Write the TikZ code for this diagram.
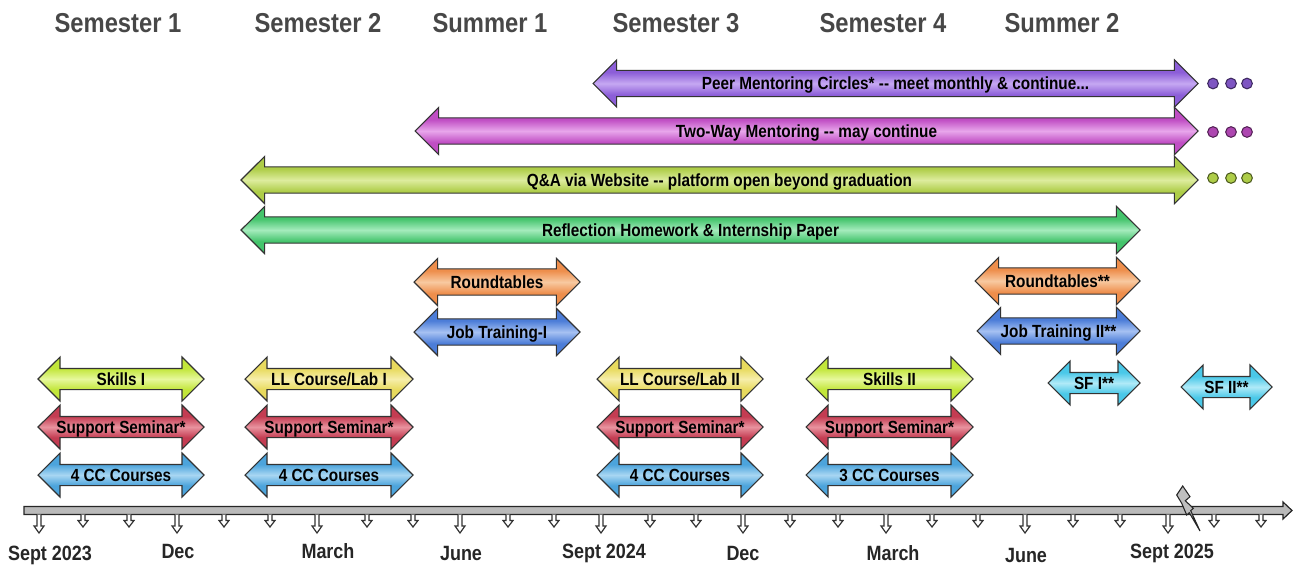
\documentclass[tikz,border=0pt]{standalone}
\usepackage{fontspec}
\setmainfont{Liberation Sans}[FakeStretch=0.87]
\usetikzlibrary{shapes.arrows}

% fill colours: base tone (D) and light centre tone (L)
\definecolor{PeerD}{HTML}{8C5ED8}\definecolor{PeerL}{HTML}{C6A8F2}
\definecolor{TwoD}{HTML}{C04EC4}\definecolor{TwoL}{HTML}{E8A6EB}
\definecolor{QaD}{HTML}{AECD48}\definecolor{QaL}{HTML}{DDEC9E}
\definecolor{RefD}{HTML}{44C46C}\definecolor{RefL}{HTML}{A4EBBC}
\definecolor{RndD}{HTML}{EE8E4C}\definecolor{RndL}{HTML}{F8C9A0}
\definecolor{JobD}{HTML}{4C7DD8}\definecolor{JobL}{HTML}{A6C1F2}
\definecolor{SfD}{HTML}{4AC8E8}\definecolor{SfL}{HTML}{B0EAF8}
\definecolor{SkD}{HTML}{C2E63A}\definecolor{SkL}{HTML}{E6F89C}
\definecolor{LlD}{HTML}{E8DA5E}\definecolor{LlL}{HTML}{F6EEAA}
\definecolor{SupD}{HTML}{C43C52}\definecolor{SupL}{HTML}{E8929E}
\definecolor{CcD}{HTML}{4CA4DC}\definecolor{CcL}{HTML}{A8D6F2}

% bevelled fill: base tone at the shaft edges, light band along the middle
\colorlet{tlD}{gray}\colorlet{tlL}{white}
\pgfdeclareverticalshading[tlD,tlL]{bevel}{100bp}{%
  color(0bp)=(tlD!85!black); color(30bp)=(tlD); color(38bp)=(tlD);
  color(50bp)=(tlL); color(62bp)=(tlD); color(70bp)=(tlD);
  color(100bp)=(tlD!85!black)}

\tikzset{
  % one unit = one pixel of the 1296 x 567 layout, y pointing down
  x=0.75pt, y=-0.75pt,
  bar/.style={double arrow, double arrow tip angle=90, inner xsep=0pt,
    draw=black!80, line width=0.8pt},
  bigbar/.style={bar, inner ysep=9.4pt, double arrow head extend=7.9pt},
  smallbar/.style={bar, inner ysep=7.5pt, double arrow head extend=8.6pt},
  tint/.style={/utils/exec={\colorlet{tlD}{#1D}\colorlet{tlL}{#1L}},
    shade, shading=bevel},
  tltext/.style={font=\bfseries\fontsize{13.2pt}{14pt}\selectfont, text=black,
    inner sep=0pt, text height=9.45pt, text depth=0pt},
  head/.style={font=\bfseries\fontsize{20.5pt}{22pt}\selectfont, text=black!72,
    inner sep=0pt, text height=14.7pt, text depth=0pt},
  month/.style={font=\bfseries\fontsize{15.5pt}{17pt}\selectfont, text=black!85,
    inner sep=0pt, text height=11.1pt, text depth=0pt},
  tickmark/.style={fill=white, draw=black!80, line width=0.9pt, line join=miter},
  more/.style={circle, inner sep=0pt, minimum size=8pt, line width=0.8pt},
}

% a labelled double arrow: name, left tip x, right tip x, centre y, style, text
\newcommand\tlspan[6]{%
  \pgfmathsetmacro\tlen{(#3-#2)*0.75}%
  \node[#5, minimum height=\tlen pt, label={[tltext]center:#6}] (#1)
    at ({(#2+#3)/2},#4) {};}

\begin{document}
\begin{tikzpicture}
\useasboundingbox (0,0) rectangle (1296,567);

% term headings
\node[head] (h1) at (118,22.5) {Semester 1};
\node[head] (h2) at (318,22.5) {Semester 2};
\node[head] (h3) at (490,22.5) {Summer 1};
\node[head] (h4) at (676,22.5) {Semester 3};
\node[head] (h5) at (883,22.5) {Semester 4};
\node[head] (h6) at (1062,22.5) {Summer 2};

% long-running activities
\tlspan{peer}{593}{1198}{83.5}{bigbar,tint=Peer}{Peer Mentoring Circles* \mbox{-}\mbox{-} meet monthly \& continue...}
\tlspan{twoway}{415}{1198}{131}{bigbar,tint=Two}{Two-Way Mentoring \mbox{-}\mbox{-} may continue}
\tlspan{qa}{241}{1198}{180}{bigbar,tint=Qa}{Q\&A via Website \mbox{-}\mbox{-} platform open beyond graduation}
\tlspan{refl}{241}{1140}{230}{bigbar,tint=Ref}{Reflection Homework \& Internship Paper}

% summer activities
\tlspan{rt1}{414}{580}{282}{bigbar,tint=Rnd}{Roundtables}
\tlspan{jt1}{414}{580}{332}{bigbar,tint=Job}{Job Training-I}
\tlspan{rt2}{975}{1140}{281}{bigbar,tint=Rnd}{Roundtables**}
\tlspan{jt2}{977}{1140}{331}{bigbar,tint=Job}{Job Training II**}
\tlspan{sf1}{1048}{1140}{383}{smallbar,tint=Sf}{SF I**}
\tlspan{sf2}{1181}{1272}{387}{smallbar,tint=Sf}{SF II**}

% semester 1
\tlspan{sk1}{38}{204}{379}{smallbar,tint=Sk}{Skills I}
\tlspan{ss1}{38}{204}{427}{smallbar,tint=Sup}{Support Seminar*}
\tlspan{cc1}{38}{204}{475}{smallbar,tint=Cc}{4 CC Courses}
% semester 2
\tlspan{ll1}{245}{413}{379}{smallbar,tint=Ll}{LL Course/Lab I}
\tlspan{ss2}{245}{413}{427}{smallbar,tint=Sup}{Support Seminar*}
\tlspan{cc2}{245}{413}{475}{smallbar,tint=Cc}{4 CC Courses}
% semester 3
\tlspan{ll2}{597}{763}{379}{smallbar,tint=Ll}{LL Course/Lab II}
\tlspan{ss3}{597}{763}{427}{smallbar,tint=Sup}{Support Seminar*}
\tlspan{cc3}{597}{763}{475}{smallbar,tint=Cc}{4 CC Courses}
% semester 4
\tlspan{sk2}{806}{973}{379}{smallbar,tint=Sk}{Skills II}
\tlspan{ss4}{806}{973}{427}{smallbar,tint=Sup}{Support Seminar*}
\tlspan{cc4}{806}{973}{475}{smallbar,tint=Cc}{3 CC Courses}

% continuation dots
\foreach \dx in {1213,1231,1247} {
  \node[more, fill=PeerD!90!black, draw=PeerD!45!black] at (\dx,83.5) {};
  \node[more, fill=TwoD!90!black, draw=TwoD!45!black] at (\dx,132) {};
  \node[more, fill=QaD, draw=QaD!45!black] at (\dx,178) {};
}

% time axis
\draw[fill=black!27, draw=black!85, line width=0.9pt, line join=miter]
  (24,506.5) -- (1283,506.5) -- (1283,502) -- (1292,510.5) -- (1283,519)
  -- (1283,514.5) -- (24,514.5) -- cycle;

% month ticks
\foreach \tx in {39,177,317,460,601,743,886,1025,1168}
  \draw[tickmark] (\tx-2,514.5) -- (\tx-2,526) -- (\tx-5,526) -- (\tx,533)
    -- (\tx+5,526) -- (\tx+2,526) -- (\tx+2,514.5);
\foreach \tx in {83,129,224,270,367,413,508,554,650,696,790,838,932,978,1073,1120,1214,1261}
  \draw[tickmark] (\tx-2,514.5) -- (\tx-2,520.5) -- (\tx-5,520.5) -- (\tx,527)
    -- (\tx+5,520.5) -- (\tx+2,520.5) -- (\tx+2,514.5);

% graduation flash
\draw[fill=black!25, draw=black!85, line width=0.8pt, line join=miter]
  (1176.7,495) -- (1182.7,486) -- (1190,496.7) -- (1185.3,500.7)
  -- (1193.3,508.3) -- (1190.7,510.7) -- (1200,531) -- (1189.3,512.7)
  -- (1186.7,515) -- (1181.7,503.3) -- cycle;

% month labels
\node[month] (m1) at (50,553) {Sept 2023};
\node[month] (m2) at (178,551) {Dec};
\node[month] (m3) at (328,551) {March};
\node[month] (m4) at (461,553) {June};
\node[month] (m5) at (604,551) {Sept 2024};
\node[month] (m6) at (743,553) {Dec};
\node[month] (m7) at (893,553) {March};
\node[month] (m8) at (1026,555) {June};
\node[month] (m9) at (1172,551) {Sept 2025};
\end{tikzpicture}
\end{document}
